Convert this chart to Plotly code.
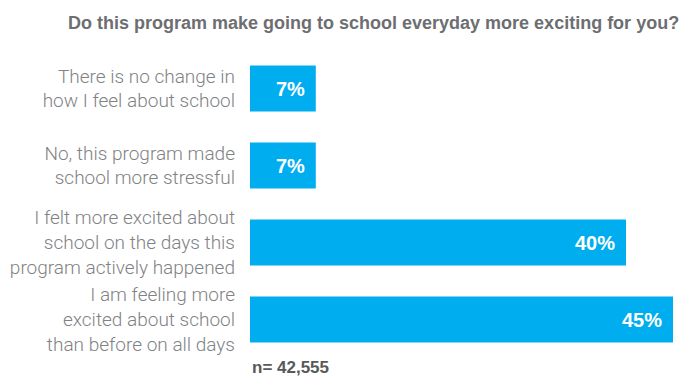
import plotly.graph_objects as go

categories = [
    "There is no change in<br>how I feel about school",
    "No, this program made<br>school more stressful",
    "I felt more excited about<br>school on the days this<br>program actively happened",
    "I am feeling more<br>excited about school<br>than before on all days",
]
values = [7, 7, 40, 45]
value_labels = ["7%", "7%", "40%", "45%"]
title_text = "Do this program make going to school everyday more exciting for you?"
note_text = "n= 42,555"

BAR = "#00AEEF"

fig = go.Figure(go.Bar(
    x=values, y=categories, orientation="h",
    marker=dict(color=BAR, line=dict(width=0)),
    hoverinfo="skip",
))

for v, c, t in zip(values, categories, value_labels):
    fig.add_annotation(x=v, y=c, text=t, showarrow=False, xanchor="right",
                       xshift=-9, font=dict(family="Liberation Sans", size=20,
                                            color="white", weight="bold"))

fig.add_annotation(x=1, y=1, xref="paper", yref="paper", text="<b>" + title_text + "</b>",
                   showarrow=False, xanchor="right", yanchor="middle",
                   yshift=27, xshift=8,
                   font=dict(family="Liberation Sans", size=18, color="#6d6e71"))
fig.add_annotation(x=0, y=0, xref="paper", yref="paper", text="<b>" + note_text + "</b>",
                   showarrow=False, xanchor="left", yanchor="middle", yshift=-9,
                   font=dict(family="Liberation Sans", size=17, color="#58595b"))

fig.update_layout(
    width=682, height=376,
    margin=dict(l=250, r=9, t=50, b=18),
    paper_bgcolor="white", plot_bgcolor="white",
    bargap=0.4, showlegend=False,
    xaxis=dict(range=[0, 45], visible=False, fixedrange=True),
    yaxis=dict(autorange="reversed", showgrid=False, zeroline=False, showline=False,
               ticks="", ticklabelstandoff=14,
               tickfont=dict(family="Roboto", size=19, color="#808285", weight=300)),
)

fig.write_html("out.html")
